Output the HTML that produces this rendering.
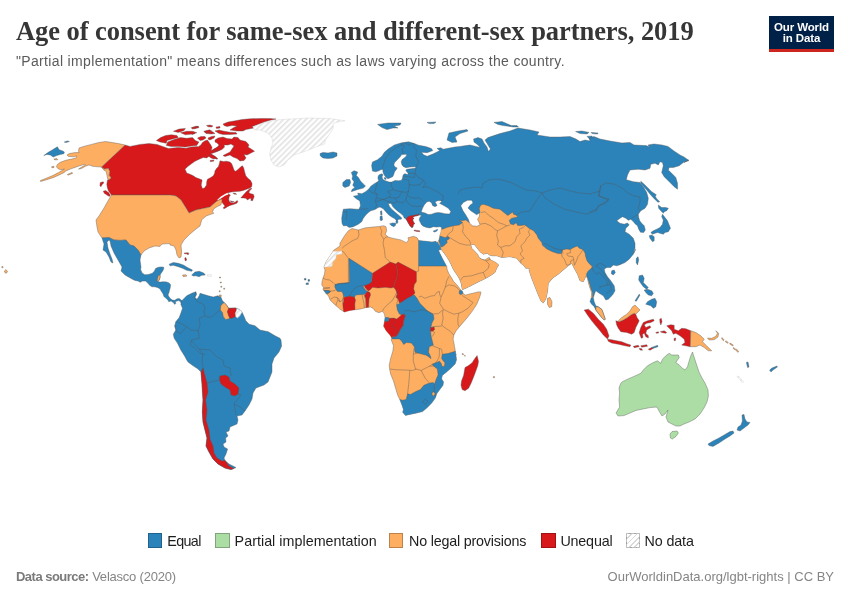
<!DOCTYPE html>
<html lang="en">
<head>
<meta charset="utf-8">
<title>Age of consent for same-sex and different-sex partners, 2019</title>
<style>
html,body{margin:0;padding:0;background:#fff;}
body{width:850px;height:600px;position:relative;overflow:hidden;font-family:"Liberation Sans",sans-serif;color:#5b5b5b;}
#title{position:absolute;left:16px;top:12.5px;margin:0;font-family:"Liberation Serif",serif;font-weight:bold;font-size:26.5px;line-height:36px;color:#363636;white-space:nowrap;letter-spacing:-0.06px;}
#subtitle{position:absolute;left:16px;top:51px;margin:0;font-size:14px;line-height:20px;color:#5b5b5b;white-space:nowrap;letter-spacing:0.34px;}
#logo{position:absolute;left:769px;top:16px;width:65px;height:33px;background:#002147;border-bottom:3px solid #ce261e;color:#fff;font-weight:bold;font-size:11.5px;line-height:11.5px;text-align:center;letter-spacing:-0.12px;}
#logo span{display:block;}
#logo span:first-child{margin-top:5.5px;}
#legend{position:absolute;left:0;top:531px;width:850px;height:20px;font-size:14.3px;color:#222;}
#legend .sw{position:absolute;top:2.4px;width:14.5px;height:14.2px;box-sizing:border-box;border:0.5px solid rgba(0,0,0,0.25);}
#legend .lb{position:absolute;top:0;line-height:20px;white-space:nowrap;color:#1d1d1d;}
#src{position:absolute;left:16px;top:568px;font-size:13px;line-height:18px;color:#858585;white-space:nowrap;}
#src b{color:#7a7a7a;letter-spacing:-0.52px;}
#src span{letter-spacing:-0.22px;}
#lic{position:absolute;right:16px;top:568px;font-size:13px;line-height:18px;color:#858585;white-space:nowrap;}
#map{position:absolute;left:0;top:0;}
</style>
</head>
<body>
<h1 id="title">Age of consent for same-sex and different-sex partners, 2019</h1>
<p id="subtitle">"Partial implementation" means differences such as laws varying across the country.</p>
<div id="logo"><span>Our World</span><span>in Data</span></div>
<svg id="map" width="850" height="600" viewBox="0 0 850 600">
<defs><pattern id="nd" width="4" height="4" patternUnits="userSpaceOnUse" patternTransform="rotate(45)"><rect width="4" height="4" fill="#fff"/><rect width="1.6" height="4" fill="#e2e2e2"/></pattern>
<clipPath id="ceu"><path d="M372.5 171.1L371.6 165.5L372.5 161.9L377.5 159.8L381.8 156.3L384.6 152L388.8 148.5L394.5 144.9L401.6 142.8L408.7 141.8L414.3 143.5L418.6 145.2L425.7 146.6L431.3 148.5L432.8 150.6L427.1 152.7L421.4 152.3L423.6 154.8L427.1 156.3L432.8 154.1L437 152L439.8 150.6L437 148.5L440.6 147.8L443.4 149.2L446.9 148.5L455 147L460 146.4L466 145.6L470 145L476 146.4L480 147.6L478 145L474 142L473.6 139L478 137.6L482 139L484 143L487 147L488.4 151.6L490.4 149L488 145L485 140L488 137.6L494 135.6L500 133.6L506 132L510 131L518 128L530 130L539 132L537 135L550 137L560 137L570 136.6L576 139L580 141.6L585 140L590 141L589 138L594 136.6L600 139L610 141L622 143L630 142.4L634 145L646 145.6L650 147L648 145L654 144L662 145L668 146.4L674 151L680 155L684 157L689 160.6L684 162.4L688.3 160L683.3 162.5L679.2 165.8L673.3 167.5L669.2 167.5L668.3 170L671.7 173.3L675.8 177.5L677.5 183.3L677.5 189.2L674.2 186.7L670 182.5L664.2 176.7L661.7 172.5L663.3 165.8L662.5 162.5L660 161.7L658.3 165L655 163.3L650.8 164.2L650 168.3L645 170L638.3 169.2L630 170L627.5 175L626.3 179.7L633.3 181.7L640 182.5L643.3 186.7L646.7 192.5L648.3 198.3L647.5 204.2L645 208.3L640.8 210.8L638.3 214.2L638.7 217.5L639.7 220.8L641.7 223.3L644.2 225.8L645.3 230L643.7 232.5L640.5 232.2L638.7 229.2L637.5 225.8L635 223.7L633 221.3L630.8 219.3L628.3 220.3L625.8 218.3L622.5 216.7L620 218.3L616.7 220.8L620 223.3L624.2 224.2L627.5 223L629.2 225L625.8 228.3L625 231.7L629.2 234.2L633.3 238.3L635 243.3L635 248.3L633.3 253.3L635.8 249.2L633.3 254.2L629.2 259.2L625 262.5L620 264.7L616.7 265.8L613.3 265L610.8 267.5L606.7 267.5L604.2 269.2L605 272.5L607.5 276.7L610.8 280.8L614.2 285.8L615 290.8L612.5 295L608.3 299.2L605.8 300L603.3 295.8L599.2 293.3L595.8 290.8L595 292.5L593.3 297.5L594.2 301.7L595.8 305.8L598.3 306.7L601.7 309.2L603.3 313.3L605.3 319.2L604.2 320L601.7 317.5L598.3 313.3L595.8 310L594.2 306.7L591.7 304.2L590 301.7L591.3 297.5L591.7 292.5L590 288.3L588.3 282.5L587.5 278.3L585.8 275.8L585 278.3L583.3 281.7L580 280.8L577.5 274.2L574.2 268.3L571.7 263.3L568.3 265.8L564.2 269.2L558.3 274.2L552.5 278.3L548.3 283.3L547.5 291.7L545.8 299.2L543.3 303L540.8 300.8L538.3 295L535 286.7L531.7 278.3L529.2 270.8L529.2 268.3L525.8 268.3L523.3 265L520.8 263.3L516.7 258.3L510 256.7L501.7 257.5L496.7 255.8L492.5 255.8L489.2 255L487.5 253.3L483.3 254.2L480 251.7L476.7 247.5L474.2 244.2L470.8 245L471.7 248.3L474.2 250.8L477.5 254.2L479.2 257.5L481.7 259.2L485 260L487.5 258.3L489.2 257.5L490.8 260L495.8 262.5L498.7 265L496.7 268.3L495 272.4L492.2 274.5L487.8 277.3L483.5 279.4L479.2 281.6L474.8 283.8L470.5 285.9L466.2 288.1L462.4 289.7L461.8 287L461.3 283.8L459.7 279.4L457.5 275.6L454.8 271.8L452.6 268L451 264.3L449.4 261L446.7 256.7L444 252.9L441.3 249.6L440.4 246.4L439.2 243.3L437.5 242.5L439.2 239.2L440 235L440.8 233.3L441.2 230L441.7 227.5L440 226.7L436.7 227.1L433.3 226.7L430 227.9L426.7 227.5L423.3 226.2L421.7 225L420.4 222.5L419.2 220L419.6 217.9L420.4 216.7L421.7 215.8L420.4 215.2L419 215L416.7 215.8L414.2 216.2L412.9 217.5L413.8 218.8L412.5 219.6L413.3 221.7L414.6 223.8L413.3 224.6L412.9 227.1L411.7 227.5L410 225.8L408.3 222.9L407.1 220.8L406.2 219.2L404.2 217.9L403.3 215.8L401.2 213.8L398.3 211.7L395.4 209.2L392.9 206.7L391.7 204.6L390.4 203.3L388.3 203.8L389.6 206.7L391.7 209.2L394.6 211.7L397.9 214.6L400.4 216.7L401.7 217.9L401.2 219.2L399.6 219.3L398.8 219.2L397.7 220.2L397.9 222.5L396.8 223.8L395.8 222.1L396.2 220.4L395 218.8L391.7 217.1L388.3 214.6L385.4 211.2L383.3 208.8L380 207.1L378.3 207.5L375 209.6L370.8 210.8L368.3 212.5L365.8 215L363.3 218.3L361.7 221.7L358.3 224.2L353.3 226.7L349.2 227.5L346.7 225.8L343.3 225.8L342 223.3L341.7 218.3L342.5 213.3L343.3 209.2L350 208.7L356.7 209.2L359 209.3L360.5 205.8L359.8 200.9L356.3 198.8L353.4 196.2L358.4 195.2L357.7 193.1L361.9 193.8L365.5 191.7L368.3 189.5L371.1 186L374 183.9L377.5 181.8L378.8 180.8L377.9 178.3L378.3 175.8L379.6 174.6L382.1 173.8L382.9 175L382.1 176.7L382.5 178.8L383.8 180L385.4 180.8L386.7 181.2L389.2 182.1L391.7 182.1L395 180.4L398.3 180.8L401.2 180.4L402.5 178.3L402.9 175.8L403.8 174.2L405 173.8L407.5 174.6L408.3 173.8L407.1 172.1L405.8 170.8L406.7 169.3L410.8 168.8L415 168.2L416 167.5L415 166.7L410 167.1L405.8 167.7L402.9 166.2L401.7 164.2L401.2 161.7L402.1 159.6L404.2 157.9L406.2 156.2L406.7 154.2L401.7 154.6L400 157.1L397.1 160L394.6 162.5L393.8 165L395 167.1L397.1 167.9L396.2 169.8L394.6 171.8L393.8 174.2L392.9 176.5L390 177.9L387.9 178.8L387.1 178.3L385.4 176.7L383.8 174.2L382.9 171.7L382.9 169.6L381.2 169.6L378.8 170.8L375.8 171.8L373.3 171.2Z"/></clipPath>
<clipPath id="caf"><path d="M352 228.5L358.3 230L365.4 227.8L372.5 227.1L379.6 226.4L383.8 225.7L386 226.7L386.7 230.7L385.3 234.2L388.1 237L393.8 238.5L400.8 239.9L406.5 242.7L408.6 239.9L407.9 237.8L413.6 236.3L417.1 237.8L418.6 240.6L426.3 241.3L432 242L436.3 241.3L435 241.7L437.5 242.5L440.4 246.4L441 249.6L438.5 250.2L440.2 254L442.3 258.3L445 263.2L446.7 266.4L447.2 269.7L448.8 273.5L451.5 277.8L453.7 281.6L456.4 284.3L458.6 287L460.2 289.2L461.3 290.3L462.4 291.3L463.5 294L465.6 295.1L469.4 294L473.8 293L478.1 291.9L480.8 291.9L480.8 293.4L479.3 298.3L476.5 304.7L472.3 311.1L468 316.8L463.8 321.7L459.5 326.7L456 330.9L453.8 335.2L453.1 339.4L453.8 342.3L454.5 346.5L455.3 350.8L456 355L455.8 354.2L456.5 359.8L455.1 364.1L450.8 368.3L446.6 371.9L442.3 375.4L441.6 379L443.5 381.8L443 385.3L440.2 388.9L436.7 393.8L435.3 398.1L431.7 403L426.8 408L422.5 411.6L416.8 413L409.8 414.4L405.5 415.4L402.7 412.3L403.4 409.4L402 405.2L399.8 399.5L397.7 395.3L395.6 388.2L393.5 381.1L390.6 374L389.6 369L389.2 365.5L390.6 358.4L392.8 351.3L393.5 345.7L391.3 340L391.6 337.5L389.5 334.6L386 330.4L383.6 326.1L384.5 321.9L385 317.6L384.5 314.1L382.4 311.3L378.9 312.7L375.3 311.3L373.2 308.4L370.4 307L365.4 307.7L360.5 309.1L354.8 309.8L349.8 310.5L344.2 312L339.9 309.1L334.3 304.2L330 299.9L328.5 296L326 293.5L324.5 291.5L323 289.5L323.5 287.5L321.8 285L322 282L323 278L324.5 274L325 270L324 267L326 262L330 256L334 250L340 246L339.9 243.4L342.8 238.5L345.6 234.2L348.4 230.7Z"/></clipPath>
</defs><g stroke="#555" stroke-width="0.4" stroke-linejoin="round">
<path d="M372.5 171.1L371.6 165.5L372.5 161.9L377.5 159.8L381.8 156.3L384.6 152L388.8 148.5L394.5 144.9L401.6 142.8L408.7 141.8L414.3 143.5L418.6 145.2L425.7 146.6L431.3 148.5L432.8 150.6L427.1 152.7L421.4 152.3L423.6 154.8L427.1 156.3L432.8 154.1L437 152L439.8 150.6L437 148.5L440.6 147.8L443.4 149.2L446.9 148.5L455 147L460 146.4L466 145.6L470 145L476 146.4L480 147.6L478 145L474 142L473.6 139L478 137.6L482 139L484 143L487 147L488.4 151.6L490.4 149L488 145L485 140L488 137.6L494 135.6L500 133.6L506 132L510 131L518 128L530 130L539 132L537 135L550 137L560 137L570 136.6L576 139L580 141.6L585 140L590 141L589 138L594 136.6L600 139L610 141L622 143L630 142.4L634 145L646 145.6L650 147L648 145L654 144L662 145L668 146.4L674 151L680 155L684 157L689 160.6L684 162.4L688.3 160L683.3 162.5L679.2 165.8L673.3 167.5L669.2 167.5L668.3 170L671.7 173.3L675.8 177.5L677.5 183.3L677.5 189.2L674.2 186.7L670 182.5L664.2 176.7L661.7 172.5L663.3 165.8L662.5 162.5L660 161.7L658.3 165L655 163.3L650.8 164.2L650 168.3L645 170L638.3 169.2L630 170L627.5 175L626.3 179.7L633.3 181.7L640 182.5L643.3 186.7L646.7 192.5L648.3 198.3L647.5 204.2L645 208.3L640.8 210.8L638.3 214.2L638.7 217.5L639.7 220.8L641.7 223.3L644.2 225.8L645.3 230L643.7 232.5L640.5 232.2L638.7 229.2L637.5 225.8L635 223.7L633 221.3L630.8 219.3L628.3 220.3L625.8 218.3L622.5 216.7L620 218.3L616.7 220.8L620 223.3L624.2 224.2L627.5 223L629.2 225L625.8 228.3L625 231.7L629.2 234.2L633.3 238.3L635 243.3L635 248.3L633.3 253.3L635.8 249.2L633.3 254.2L629.2 259.2L625 262.5L620 264.7L616.7 265.8L613.3 265L610.8 267.5L606.7 267.5L604.2 269.2L605 272.5L607.5 276.7L610.8 280.8L614.2 285.8L615 290.8L612.5 295L608.3 299.2L605.8 300L603.3 295.8L599.2 293.3L595.8 290.8L595 292.5L593.3 297.5L594.2 301.7L595.8 305.8L598.3 306.7L601.7 309.2L603.3 313.3L605.3 319.2L604.2 320L601.7 317.5L598.3 313.3L595.8 310L594.2 306.7L591.7 304.2L590 301.7L591.3 297.5L591.7 292.5L590 288.3L588.3 282.5L587.5 278.3L585.8 275.8L585 278.3L583.3 281.7L580 280.8L577.5 274.2L574.2 268.3L571.7 263.3L568.3 265.8L564.2 269.2L558.3 274.2L552.5 278.3L548.3 283.3L547.5 291.7L545.8 299.2L543.3 303L540.8 300.8L538.3 295L535 286.7L531.7 278.3L529.2 270.8L529.2 268.3L525.8 268.3L523.3 265L520.8 263.3L516.7 258.3L510 256.7L501.7 257.5L496.7 255.8L492.5 255.8L489.2 255L487.5 253.3L483.3 254.2L480 251.7L476.7 247.5L474.2 244.2L470.8 245L471.7 248.3L474.2 250.8L477.5 254.2L479.2 257.5L481.7 259.2L485 260L487.5 258.3L489.2 257.5L490.8 260L495.8 262.5L498.7 265L496.7 268.3L495 272.4L492.2 274.5L487.8 277.3L483.5 279.4L479.2 281.6L474.8 283.8L470.5 285.9L466.2 288.1L462.4 289.7L461.8 287L461.3 283.8L459.7 279.4L457.5 275.6L454.8 271.8L452.6 268L451 264.3L449.4 261L446.7 256.7L444 252.9L441.3 249.6L440.4 246.4L439.2 243.3L437.5 242.5L439.2 239.2L440 235L440.8 233.3L441.2 230L441.7 227.5L440 226.7L436.7 227.1L433.3 226.7L430 227.9L426.7 227.5L423.3 226.2L421.7 225L420.4 222.5L419.2 220L419.6 217.9L420.4 216.7L421.7 215.8L420.4 215.2L419 215L416.7 215.8L414.2 216.2L412.9 217.5L413.8 218.8L412.5 219.6L413.3 221.7L414.6 223.8L413.3 224.6L412.9 227.1L411.7 227.5L410 225.8L408.3 222.9L407.1 220.8L406.2 219.2L404.2 217.9L403.3 215.8L401.2 213.8L398.3 211.7L395.4 209.2L392.9 206.7L391.7 204.6L390.4 203.3L388.3 203.8L389.6 206.7L391.7 209.2L394.6 211.7L397.9 214.6L400.4 216.7L401.7 217.9L401.2 219.2L399.6 219.3L398.8 219.2L397.7 220.2L397.9 222.5L396.8 223.8L395.8 222.1L396.2 220.4L395 218.8L391.7 217.1L388.3 214.6L385.4 211.2L383.3 208.8L380 207.1L378.3 207.5L375 209.6L370.8 210.8L368.3 212.5L365.8 215L363.3 218.3L361.7 221.7L358.3 224.2L353.3 226.7L349.2 227.5L346.7 225.8L343.3 225.8L342 223.3L341.7 218.3L342.5 213.3L343.3 209.2L350 208.7L356.7 209.2L359 209.3L360.5 205.8L359.8 200.9L356.3 198.8L353.4 196.2L358.4 195.2L357.7 193.1L361.9 193.8L365.5 191.7L368.3 189.5L371.1 186L374 183.9L377.5 181.8L378.8 180.8L377.9 178.3L378.3 175.8L379.6 174.6L382.1 173.8L382.9 175L382.1 176.7L382.5 178.8L383.8 180L385.4 180.8L386.7 181.2L389.2 182.1L391.7 182.1L395 180.4L398.3 180.8L401.2 180.4L402.5 178.3L402.9 175.8L403.8 174.2L405 173.8L407.5 174.6L408.3 173.8L407.1 172.1L405.8 170.8L406.7 169.3L410.8 168.8L415 168.2L416 167.5L415 166.7L410 167.1L405.8 167.7L402.9 166.2L401.7 164.2L401.2 161.7L402.1 159.6L404.2 157.9L406.2 156.2L406.7 154.2L401.7 154.6L400 157.1L397.1 160L394.6 162.5L393.8 165L395 167.1L397.1 167.9L396.2 169.8L394.6 171.8L393.8 174.2L392.9 176.5L390 177.9L387.9 178.8L387.1 178.3L385.4 176.7L383.8 174.2L382.9 171.7L382.9 169.6L381.2 169.6L378.8 170.8L375.8 171.8L373.3 171.2Z" fill="#2b83ba"/>
<path d="M440 227.5L442.5 229.2L446.7 227.5L453.3 225.8L459.2 225L462.5 222.5L459.2 220L461.7 220.8L465.8 220L469.2 222.5L480 212.5L479.2 208.3L480.8 205L483.3 204.2L488.3 205.8L493.3 208.3L500 209.2L504.3 212.8L507.8 215.6L510.6 213.5L512.8 212L513.5 214.2L517 215.6L517.7 217L514.2 217.7L511.3 218.4L509.2 220.5L510.6 224.1L513.5 224.8L516.3 222.7L517.7 225.5L521.3 225.5L524.8 224.8L529 228.3L533.3 230.5L536.8 234.7L538.3 238.3L541.8 242.5L542.5 245.3L546.8 248.9L552.4 251.7L558.1 253.6L561.6 253.6L562.3 249.9L566.6 248.9L570.1 249.6L573.7 247.5L577.2 246L579.3 248.2L582.9 249.6L585 253.1L585.7 256.7L587.1 260.9L590 264.5L592.8 266.6L590.7 268.7L587.8 271.6L586.4 274.4L587.1 277.2L588.6 280.8L590 285L590.8 288.3L592.5 292.5L592.7 297L591.3 298.3L586.7 298.3L560 330L430 330L430 240Z" fill="#fdae61" clip-path="url(#ceu)"/>
<path d="M439.1 239.3L440.2 236.1L441.8 236.6L445 237.7L448.3 236.6L449.4 238.8L446.7 240.4L447.2 242.6L445 244.8L442.9 246.4L440.7 246.9L440.2 244.2L439.1 242Z" fill="#2b83ba" clip-path="url(#ceu)"/>
<path d="M421.2 212.1L422.5 208.3L424.2 205L426.7 202.1L429.2 201.2L431.7 202.9L432.5 205.4L435 206.7L437.1 205.4L436.2 203.8L435 202.1L437.5 200.8L440.8 200.4L441.7 201.7L439.6 203.3L444.2 205.8L448.3 208.3L450.8 211.5L449.5 214L445 213.8L441.7 212.9L438.3 212.5L435 212.9L431.7 214.2L428.3 214.6L425 212.9Z" fill="#ffffff"/>
<path d="M460.8 205.8L463.3 202.5L467.5 200.3L471.7 200.3L473 203L470 205.3L468 208L470.8 210.8L474.2 213L476.7 214.7L478.7 213.3L479.7 215L478.7 217.5L477.5 219.2L478.7 221.7L480 224.7L477 226.3L472.5 225.8L469.7 223.3L468.3 219.2L465.8 215L463 210.8Z" fill="#ffffff"/>
<path d="M351.3 172.5L354.1 170.7L357.7 172.1L356.3 175.4L358.4 177.5L360.5 181L363.3 183.9L365.5 186L363.3 188.1L357.7 189.5L351.3 191.7L352 189.5L354.8 187.4L352.7 185.3L354.1 181.8L352 178.9L352.7 176.1Z" fill="#2b83ba"/>
<path d="M342.8 182.5L346.3 179.6L349.9 179.6L350.6 182.5L349.2 186L344.9 187.4L342.8 186Z" fill="#2b83ba"/>
<path d="M384.2 177.5L386.2 177.9L385.8 179.6L384.6 179.2Z" fill="#2b83ba"/>
<path d="M377.6 124.4L388 123L401 123L400 125L394 126L398 128L393 128L387 129.6L382 127.6Z" fill="#2b83ba"/>
<path d="M427 122.4L436 122L434 123.6L429 123.6Z" fill="#2b83ba"/>
<path d="M449 133L458 131L467 129.6L468 131L460 133.6L455 137L457 142L452 142.4L447 140Z" fill="#2b83ba"/>
<path d="M494 122.4L502 121.6L510 125L510 126.4L503 125.6L498 124.4Z" fill="#2b83ba"/>
<path d="M510 125L511 125.6L517 125.6L518.4 127L513 127L510 126.4Z" fill="#2b83ba"/>
<path d="M575.6 131.6L582 131L589 132.4L587 134L580 133.6Z" fill="#2b83ba"/>
<path d="M591 132.4L598 133L597.6 134L592 133.6Z" fill="#2b83ba"/>
<path d="M587 136.4L592 136L592.4 138L589 138.4Z" fill="#2b83ba"/>
<path d="M380.4 211.2L381.7 210.8L382.1 214.6L380.8 215Z" fill="#2b83ba"/>
<path d="M380.2 216.2L382.1 215.8L382.5 220L380.8 220.8L380 219.2Z" fill="#2b83ba"/>
<path d="M389.6 223.8L392.9 222.9L395.8 223.3L395.4 225.4L393.8 226.7L391.2 225.4Z" fill="#2b83ba"/>
<path d="M433.2 231L435 230.4L437.5 229.3L437.7 230L436.2 231.5L434.2 232.1Z" fill="#2b83ba"/>
<path d="M406.2 219.2L407.5 217.1L410 215.8L412.5 215.4L415 215L417.5 214.6L418.8 213.8L419 215L416.7 215.8L414.2 216.2L412.9 217.5L413.8 218.8L412.5 219.6L413.3 221.7L414.6 223.8L413.3 224.6L412.9 227.1L411.7 227.5L410 225.8L408.3 222.9L407.1 220.8Z" fill="#d7191c"/>
<path d="M414 230L416.7 230.4L419.8 230.8L419.6 231.7L416.7 231.4L414.2 230.8Z" fill="#d7191c"/>
<path d="M640.8 181.3L644.2 184.2L647.5 187.5L651.7 191.7L656.3 194.7L655.3 196.3L656.7 198.7L659.7 201.7L658 202.3L654.2 198.7L650.8 195L646.7 190L643 185.8L640.8 183Z" fill="#2b83ba"/>
<path d="M658.3 205L661.7 207.5L665.8 207.5L668.3 208.3L666.7 210.8L664.2 211.7L663.3 213.3L660.8 210.8L658.7 208.3Z" fill="#2b83ba"/>
<path d="M662.5 214.2L665 217.5L667.5 220.8L669.2 225L670.5 228.3L668.3 231.7L665 232.5L663.3 234.2L660 233.3L657.5 232.5L655 233.3L652.5 234.2L650.8 232.5L653.3 230.8L656.7 229.2L660 227.5L662.5 224.2L663.3 220L661.7 216.7Z" fill="#2b83ba"/>
<path d="M649.2 235.8L651.7 235L654.2 236.7L654.2 240.8L652.5 241.7L650 238.3Z" fill="#2b83ba"/>
<path d="M611.7 270.8L614.2 270L615.3 272.5L613.3 275L611.3 273.7Z" fill="#2b83ba"/>
<path d="M636.3 258.3L638 256.7L638.7 260L637.5 265L636.2 262.5Z" fill="#2b83ba"/>
<path d="M547.5 298.3L550 297.5L552 301.7L551.7 306.7L549.2 307.5L547.5 304.2Z" fill="#fdae61"/>
<path d="M639.2 275.8L642.5 275L644.2 278.3L643.3 282.5L645.8 285L648.3 287.5L646.7 289.2L643.3 286.7L640.8 283.3L638.7 280Z" fill="#2b83ba"/>
<path d="M644.2 290L647.5 289.2L651.7 290.8L653.3 293.3L651.7 295.8L648.3 295L645.8 292.5Z" fill="#2b83ba"/>
<path d="M647.5 301.7L651.7 299.2L655 298.3L656.7 301.7L655.8 306.7L653.3 308.3L650.8 305.8L648.3 305L645.8 304.2Z" fill="#2b83ba"/>
<path d="M635 300.8L639.2 294.2L640 295L636.3 301.3Z" fill="#2b83ba"/>
<path d="M595.8 306.7L598.3 307L601.7 309.2L603.3 313.3L605.3 319.2L604.2 320L601.7 317.5L598.3 313.3L595.8 310Z" fill="#fdae61"/>
<path d="M352 228.5L358.3 230L365.4 227.8L372.5 227.1L379.6 226.4L383.8 225.7L386 226.7L386.7 230.7L385.3 234.2L388.1 237L393.8 238.5L400.8 239.9L406.5 242.7L408.6 239.9L407.9 237.8L413.6 236.3L417.1 237.8L418.6 240.6L426.3 241.3L432 242L436.3 241.3L435 241.7L437.5 242.5L440.4 246.4L441 249.6L438.5 250.2L440.2 254L442.3 258.3L445 263.2L446.7 266.4L447.2 269.7L448.8 273.5L451.5 277.8L453.7 281.6L456.4 284.3L458.6 287L460.2 289.2L461.3 290.3L462.4 291.3L463.5 294L465.6 295.1L469.4 294L473.8 293L478.1 291.9L480.8 291.9L480.8 293.4L479.3 298.3L476.5 304.7L472.3 311.1L468 316.8L463.8 321.7L459.5 326.7L456 330.9L453.8 335.2L453.1 339.4L453.8 342.3L454.5 346.5L455.3 350.8L456 355L455.8 354.2L456.5 359.8L455.1 364.1L450.8 368.3L446.6 371.9L442.3 375.4L441.6 379L443.5 381.8L443 385.3L440.2 388.9L436.7 393.8L435.3 398.1L431.7 403L426.8 408L422.5 411.6L416.8 413L409.8 414.4L405.5 415.4L402.7 412.3L403.4 409.4L402 405.2L399.8 399.5L397.7 395.3L395.6 388.2L393.5 381.1L390.6 374L389.6 369L389.2 365.5L390.6 358.4L392.8 351.3L393.5 345.7L391.3 340L391.6 337.5L389.5 334.6L386 330.4L383.6 326.1L384.5 321.9L385 317.6L384.5 314.1L382.4 311.3L378.9 312.7L375.3 311.3L373.2 308.4L370.4 307L365.4 307.7L360.5 309.1L354.8 309.8L349.8 310.5L344.2 312L339.9 309.1L334.3 304.2L330 299.9L328.5 296L326 293.5L324.5 291.5L323 289.5L323.5 287.5L321.8 285L322 282L323 278L324.5 274L325 270L324 267L326 262L330 256L334 250L340 246L339.9 243.4L342.8 238.5L345.6 234.2L348.4 230.7Z" fill="#fdae61"/>
<path d="M318.7 267.5L318.7 251.2L334.3 251.2L342 251.2L342 254L336.4 254.8L335.7 259L332.8 261.8L332.1 266.1L330 266.8Z" fill="url(#nd)" stroke="#d0d0d0" clip-path="url(#caf)"/>
<path d="M418.6 233.5L418.6 266.1L449 266.1L449 233.5Z" fill="#2b83ba" clip-path="url(#caf)"/>
<path d="M372.5 273.2L390.2 262.1L395.9 264L396.6 267.5L398 271.8L396.6 278.8L394.5 283.1L393.8 287.3L390.9 288L385.3 287.3L378.2 288L372.5 287.3L370.4 289.5L368.3 290.9L365.4 288L364 285.2L366.8 283.1L371.8 281.7Z" fill="#d7191c" clip-path="url(#caf)"/>
<path d="M395.9 264L398 262.1L416.4 271.8L416.4 281.7L414.3 284.5L413.6 288.8L415 293L412.2 295.8L409.3 298.7L403.7 301.5L399.4 302.9L398 298.7L395.9 297.3L397.3 294.4L395.9 290.2L393.8 287.3L394.5 283.1L396.6 278.8L398 271.8L396.6 267.5Z" fill="#d7191c" clip-path="url(#caf)"/>
<path d="M349 258.3L372.3 273.2L372 276L371.5 282L369 284L366 285L363 286L364 288L365.5 290L367.5 291.5L365.5 294L362 294.5L355.5 295L354.5 297.5L352 296.5L349 296.2L346.5 297L343.5 296.5L343 293.5L341.5 291.5L337.5 291.5L336 289.5L334.8 287L335 284.5L339 283.5L349.5 282.5Z" fill="#2b83ba" clip-path="url(#caf)"/>
<path d="M322 290.5L326 290.5L328.5 290.5L330.5 291.2L329.5 292.5L327.5 293.8L324 294L322 293Z" fill="#2b83ba" clip-path="url(#caf)"/>
<path d="M343.5 297.5L346.5 297L349 296.2L352 296.5L354.5 297.5L355.5 300L354.8 304L355 309.5L355 313L344 314L343.2 308.5L342.8 304L343.8 301Z" fill="#d7191c" clip-path="url(#caf)"/>
<path d="M365.5 294L367.5 291.5L370 292.5L370.5 295L369 299L368.5 307L368.5 310L366.3 310L366 299L364.5 295.5Z" fill="#d7191c" clip-path="url(#caf)"/>
<path d="M400 303.3L407.1 298.3L414.2 294.8L417 298.3L419.8 303.3L424.1 307.5L427.6 311.1L433.3 314.6L434 318.9L431.9 323.1L430.9 327.4L430.5 330.9L431.2 336.6L432.6 342.3L433.3 345.1L429.2 346.7L428.5 352.3L430.6 356.6L430.9 358.7L429.2 357.3L426.3 355.2L420.7 353.8L417.8 353L415 352.3L414.3 346.7L411.5 343.1L406.5 342.4L403.7 344.5L401.6 341L399.4 338.9L392.3 338.9L391.6 337.5L395.9 336.5L398 333.9L400.1 329.7L403 325.4L403.7 320.5L405.1 316.2L404.4 314.1L401.6 314.8L399.4 314.1L397.3 309.8L396.6 304.9Z" fill="#2b83ba" clip-path="url(#caf)"/>
<path d="M385 321.2L388.8 320.9L389.2 318.3L393.8 318.1L396.6 319L398.7 317.6L401.6 314.8L404.4 314.1L405.1 316.2L403.7 320.5L403 325.4L400.1 329.7L398 333.9L395.9 336.5L392.3 336.8L391.6 337.5L386.7 338.9L379.6 332.5L379.6 321.9Z" fill="#d7191c" clip-path="url(#caf)"/>
<path d="M382.4 317.6L388.8 317.6L388.8 321.2L382.4 321.2Z" fill="#2b83ba" clip-path="url(#caf)"/>
<path d="M430.6 327.5L434.1 327.1L434.6 329.7L432 331.4L430.3 330.8Z" fill="#d7191c" clip-path="url(#caf)"/>
<path d="M459.5 290.8L461.3 290L462.9 291.3L462.7 293.5L460.8 294.8L459.1 293.5Z" fill="#2b83ba" clip-path="url(#caf)"/>
<path d="M442.3 354.2L448 353.5L455.1 351.3L459.3 351.3L459.3 375.4L445.2 385.3L439.5 396.7L435.3 396L434.1 394.5L433.8 389.6L434.5 383.9L436 379.7L438.1 374.7L437.4 369L433.8 366.2L432.1 364.4L436 362.7L439.5 361.3L441.2 363.4L442.1 366.6L444.5 366.2L444.9 362.7L443 360.5L441.6 358.4Z" fill="#2b83ba" clip-path="url(#caf)"/>
<path d="M399.8 399.5L402.7 400.2L406.2 399.5L407.6 393.8L410.5 394.5L415.4 391.7L420.4 389.6L423.9 385.3L428.9 383.2L433.1 382.5L434.5 383.9L433.8 389.6L434.1 394.5L435.3 396L439.5 396.7L433.8 408L422.5 416.5L405.5 419.3L397 413.7L397 399.5Z" fill="#2b83ba" clip-path="url(#caf)"/>
<path d="M432.1 392.7L433.8 391.7L435 393.8L433.8 396L432.1 395.3Z" fill="#fdae61" clip-path="url(#caf)"/>
<path d="M422.5 401.6L425.3 399.2L427.9 401.2L425.3 404.5Z" fill="#2b83ba" clip-path="url(#caf)"/>
<path d="M461.5 381.1L463.6 375.4L465 367.6L468.6 365.5L472.1 362.7L474.9 358.4L477.1 355.6L478.5 361.3L477.8 365.5L476.3 369.8L474.2 375.4L471.4 382.5L468.6 388.2L465 390.7L462.2 389.6L461 385.3Z" fill="#d7191c"/>
<path d="M462.2 353.5L463.6 353.9L463.3 354.7L462.2 354.5Z" fill="#fdae61"/>
<path d="M464.3 355.3L465.4 355.6L465 356.4Z" fill="#fdae61"/>
<path d="M493.3 376.6L494.5 376.6L494.5 377.7L493.3 377.7Z" fill="#fdae61"/>
<path d="M304.4 278.4L306 278.4L306 280L304.4 280Z" fill="#2b83ba"/>
<path d="M308 279.6L309.6 279.6L309.6 281.2L308 281.2Z" fill="#2b83ba"/>
<path d="M306 283.2L308.4 282.8L308.4 284.4L306 284.4Z" fill="#2b83ba"/>
<path d="M125 145L130 146.4L140 144.4L149 143.6L157 144.4L165.6 147.5L168.4 148.5L178.3 147.5L186 148.3L191 147L197.5 146.5L197.9 147.1L200.8 145L202.5 142.5L205 140.8L207.5 140L209.2 142.5L210.8 145L212.1 147.5L211.2 150.4L213.3 149.6L216.7 147.5L220 145.8L223.3 145L223.8 146.2L221.7 148.3L219.2 150.4L216.7 151.7L213.3 152.9L210.8 153.8L211.7 154.6L215 156.2L217.9 158.8L216.7 159.2L213.3 157.5L210.8 155.8L208.3 156.8L206.7 157.9L203.3 157.5L199.2 159.2L195 161.2L190.8 164.2L187.5 166.7L185 169.2L185.8 170.8L186.7 172.9L190 174.2L193.3 175.8L195.8 177.5L199.2 178.8L202.1 180L201.8 181.7L201.2 185L202.4 188.6L204.5 188L206.5 185L206.7 181.7L207.5 179.2L210.8 177.5L213.3 175.8L214.6 173.3L215 170.8L216.7 168.3L218.3 166.7L219.2 164.2L220 160.8L223.3 161.5L226.7 161.2L230 162.1L231.7 163.8L232.9 166.7L234.2 170.4L235.8 171.2L238.3 169.2L240.8 166.7L242.5 165.8L243.8 168.3L244.6 171.7L245.8 175.8L247.9 178.3L250 180L250.8 180.8L252.1 183.8L251.7 186.7L250 187.9L246.7 189.2L243.3 190.4L240 191.2L236.7 191.5L233.3 191.8L230 192.3L227.5 192.9L228.8 194.3L230.4 195L229.2 196.7L228.8 199.2L229.2 201.2L230.8 202.5L233.3 202.9L235.4 202.1L237.1 200.4L237.9 201.7L236.7 203.3L233.3 204.6L230 205.4L227.5 206.7L225 208.3L223.8 208.8L223.3 207.5L225 206.2L221.8 202.1L222.1 199.3L220 199.6L216.7 201.2L210 207L196 210L189 213L186 208L181 200L176 196L170 195L111.5 195L108.5 190.9L107.4 187.9L106.8 184.4L107.4 180.3L110.3 179.1L110.9 177.4L109.1 175.6L109.7 171.5L108.5 168.5L104.4 169.1L101.5 167Z" fill="#d7191c"/>
<path d="M240.8 197.9L243.3 195L246.2 191.8L249.2 189.2L251.2 187.9L251.7 188.8L249.6 190.8L248.8 192.5L250.8 193.8L253.3 194.2L254.2 196.7L253.3 198.8L252.5 200.8L250.8 200.4L251.2 198.3L249.2 198.8L247.5 200L245.8 198.3L243.3 197.9Z" fill="#d7191c"/>
<path d="M232.9 193.3L235 193.2L236.7 194.2L234.6 194.2Z" fill="#d7191c"/>
<path d="M230.4 200.7L232.5 201.5L234.2 201.7L232.9 202.3L230.8 201.7Z" fill="#d7191c"/>
<path d="M227.5 192.7L225 194L220.8 196.5L217.1 200L217.9 200.2L221.7 197.9L225 195.8L228.3 194.6Z" fill="#ffffff" stroke="none"/>
<path d="M100.3 182.6L103.2 181.8L103.8 183L102.1 184.4L100.9 186.8L99.9 185.6Z" fill="#d7191c"/>
<path d="M103.2 191.2L105.6 190.5L108.5 192.6L110.3 195L109.4 196.4L106.8 195L104.4 193.2Z" fill="#d7191c"/>
<path d="M223 124L228 122L234 121L242 119.5L250 118.8L260 118.5L270 118.6L276 119L270 120.2L264 122L258 124.5L252 126.5L254 128L246 129.5L243 131L237 131L230 130L233 128L237 126L232 125.5L227 126.5L224 125.5Z" fill="#d7191c"/>
<path d="M215 131L219 130L223 131L230 132.2L236 132.5L237 134L230 134.5L223 134.5L219 133.5Z" fill="#d7191c"/>
<path d="M206.5 125.5L210 125L213 126L211.5 127L208 126.8Z" fill="#d7191c"/>
<path d="M192 127.5L196 126.2L198.5 126.5L195 128.5Z" fill="#d7191c"/>
<path d="M216 127L220 126.5L220 128L216.5 128.5Z" fill="#d7191c"/>
<path d="M204 131.5L208 131L213 132L215 133.5L211.5 134L206 133.5Z" fill="#d7191c"/>
<path d="M191 133L194 132L195 133.5L192 134.5Z" fill="#d7191c"/>
<path d="M215 140L218 138L223 137L227 138.5L232 139L234 137L238 137.5L240 140L246 141.5L249 145L248 147L252 149.5L254.5 151.2L250 153.5L247 155L244 154.5L246 158L244 160.5L240 161L237 158.5L233 157L230 155L225 156.5L223 155.5L227 153.5L230 152L232 149L234 146L231 144L228 145L224 145L224.5 147L222 149.5L218 151L214 151.5L213 149.5L217 147.5L219 145L217 143L215 142Z" fill="#d7191c"/>
<path d="M208 138L211.5 136.5L215 136L214 138L210 140L208.5 139.5Z" fill="#d7191c"/>
<path d="M197.5 138L201 136.5L205 136.5L206 138L203 140L200 140.5Z" fill="#d7191c"/>
<path d="M208.5 156L211 154L214 156L216.5 158L214 159L211 158Z" fill="#d7191c"/>
<path d="M210 160.5L213.5 160L214 161L210.5 161.8Z" fill="#d7191c"/>
<path d="M156.4 140.5L160.6 137.6L165.6 135.5L171.3 134.8L176.9 135.5L178.3 137.6L172.7 139L167 140.5L166.3 143.3L159.9 141.9Z" fill="#d7191c"/>
<path d="M167.7 141.9L173.4 139.8L180.5 137.6L186.8 138.3L192.5 137.6L195.3 140.5L198.9 141.9L196.8 145.4L191.1 146.1L185.4 147.1L178.3 146.6L171.3 146.6L166.3 145.4Z" fill="#d7191c"/>
<path d="M173.4 131.3L179 129.1L185.4 128.4L184 130.5L178.3 132.4Z" fill="#d7191c"/>
<path d="M180.5 132.7L186.8 131.3L192.5 131.3L196.8 132.7L192.5 134.1L185.4 134.8Z" fill="#d7191c"/>
<path d="M191.1 127.7L198.2 126.3L198.9 127.7L192.5 129.1Z" fill="#d7191c"/>
<path d="M203.8 131.3L209.5 129.8L212.3 131.3L206.7 133Z" fill="#d7191c"/>
<path d="M111.5 195L170 195L176 196L181 200L186 208L189 213L196 210L210 207L216.7 201.3L220 199.6L222 199.3L221.8 202L220.8 205L217.9 206.2L213.8 208.8L212.5 211.7L213.8 213.3L210 214.6L206.7 215.8L203.3 218.3L201.7 220L200 226L196 229L190 234L184 240L181 245L181.6 252L181 257L179 258L177 255L176 250L174 246L170 245L170 243.6L162 244L160 246.4L155 246L149 248L144 251L141 255L138 250L134 246L130 245L126 240L120 240.4L114 240L109 237.6L102 238L98 232L97 227L96 220L99 216L104 208L108.5 200Z" fill="#fdae61"/>
<path d="M125 145L119.7 143.8L112.6 142.6L105.6 141.5L98.5 142.6L91.5 144.4L84.4 146.2L79.1 147.9L78.5 150.9L79.1 152.6L75 152.6L69.1 153.6L67 155L68.5 156.4L73.8 156.8L76.8 155.9L76.2 157.9L71.5 159.1L65.6 160.3L60.3 162.3L57.4 164.4L56.4 166.8L57.9 168.5L60.3 169.7L64.4 169.1L58.5 172.6L52.6 175.6L45.6 178.5L40.3 180.6L40.6 181.5L46.8 179.7L53.8 177.4L60.3 174.4L64.4 172.4L65.8 170.9L70.3 169.1L75 167.4L79.7 165.8L85 164.2L85.6 165L82.1 166.8L78.5 169.1L81.5 168.5L85.6 166.2L89.1 165L92.6 166.2L97.4 166.8L101.5 167Z" fill="#fdae61"/>
<path d="M101.5 167L104.4 169.1L108.5 168.5L109.7 171.5L109.1 175.6L110.9 177.4L110.3 179.1L107.9 179.7L107 175.6L106.2 171.5L103.8 170.1Z" fill="#fdae61"/>
<path d="M67.4 174.4L72.1 172.4L72.6 173.4L67.9 175.2Z" fill="#fdae61"/>
<path d="M4.4 271L6 269.6L7.6 271.6L6.4 273.2L5 272.8Z" fill="#fdae61"/>
<path d="M1.6 266.8L2.8 266.4L3.2 267.6L2 267.8Z" fill="#fdae61"/>
<path d="M43.8 155.6L47.9 152.6L52.6 149.7L57.4 146.8L59.1 149.7L62.6 150.9L64.4 152.1L63.8 153.8L60.3 154.4L56.8 155.6L53.2 157.1L50.3 155L46.8 154.4Z" fill="#2b83ba"/>
<path d="M64.2 142.1L67.4 140.9L69.4 141.5L66.2 142.6Z" fill="#2b83ba"/>
<path d="M53.8 159.1L56.8 158.5L57.9 159.7L55 159.9Z" fill="#fdae61"/>
<path d="M51.5 166.8L53.8 166.2L54.1 167.4L52.1 167.9Z" fill="#fdae61"/>
<path d="M253 127L260 124L276 120L290 119L310 118L330 118.6L340 120L345 120.8L340 121.6L333.2 123.2L333.2 128.2L329.2 134.8L325.4 140L324.8 143.8L317.6 146.4L306 151L294 155L288 160L284 165L279 167L274 165L271 160L269.6 154L271 148L273 143L272 138L268 133L260 130L254 130Z" fill="url(#nd)" stroke="#d0d0d0"/>
<path d="M320 153.6L323 152.4L328 153L333 152L337 153L337 156L333 158L328 158.6L323 158L320.4 156Z" fill="#2b83ba"/>
<path d="M102 238L109 237.6L114 240L120 240.4L126 240L130 245L134 246L138 250L141 255L140 260L141 267L140.6 269.5L142.1 272.9L144.8 274.8L148.5 274.4L152.3 273.3L154.5 271L155.6 268.4L158.3 267.3L161.3 266.9L163.9 267.3L163.5 269.5L162.4 271.4L160.9 273.6L160.1 275.1L160.1 277L159.4 279.6L157.9 281.7L160.5 282.1L163.5 281.7L166.5 281.9L169.1 283L170.6 284.7L170.3 287.5L169.5 290.5L168.8 293.1L168 295L169.1 296.9L170.6 298.8L172.5 300.1L174.8 300.3L177 298.8L179.3 298.6L181.1 299.9L183 302.1L181.9 304L180.4 301.8L178.9 300.6L177 301L175.1 301.8L175.9 303.3L174.8 304.4L173.3 302.5L171 301L168.8 301.8L168 300.3L165.8 298L163.9 296.5L163.1 293.9L161.3 291.3L160.1 289L157.5 287.5L154.5 286.8L151.9 286.8L149.6 285.3L147.8 283L145.5 281.1L142.5 281.1L140.3 282.3L138 281.1L135 280.4L132 279L125 275L121 271L122 267L118 260L114 253L111 246L110 241L109 240L107 242L108 248L110 254L112 259L113 263L111 262L109 257L106 252L103 250L104 244Z" fill="#2b83ba"/>
<path d="M158.3 275.5L159.8 274.9L160.1 277L159.4 279.6L157.9 281.7L157.1 281.1L157.5 278.5Z" fill="#fdae61"/>
<path d="M181.7 300.8L183.3 299.2L186.7 295.8L191.7 293.3L195.8 291.7L196.7 294.2L195 297.5L197 299.2L199.2 295.8L200 293.3L203.3 294.2L208.3 295.8L213.3 297L217.5 295.8L220.8 297L222.5 300.8L224.2 302.5L226.7 305.3L228.7 308.3L235.8 308L240 309.7L242 312L244.2 316.7L245.8 320.8L249.2 324.2L255 325.8L260 330L268.3 331.7L275 335.8L280 338.3L281 340L281.6 346L279 352L274 358L272 364L272 372L268 382L264 385L256 388L253 393L252 399L249 405L245 411L242 415L237 416L238 420L237 424L230 427L229 431L226 432L228 436L225.6 438L226 442L223 444L224 447L227.6 449L226 454L224 458L225 460.4L229 464L236 467.6L234 468.4L231 469.6L225 468L218 464L213 459L209 452L206 446L207 438L205 430L203 422L202.4 412L203 400L202 384L201 372L198 369L192 365L188 362L186.7 360L185 356.7L180.8 350L177.5 343.3L174.2 338.3L173.3 334.2L175.8 330L174.7 325.8L175.8 321.7L179.2 317.5L180.8 313.3L182.5 308.3L180.8 304.2Z" fill="#2b83ba"/>
<path d="M201 372L202 384L203 400L202.4 412L203 422L205 430L207 438L206 446L209 452L213 459L218 464L225 468L231 469.6L234 468.4L229 466L225 460.4L222 461L217 458L214 453L213 446L210 439L209 430L206 420L207 410L205.6 400L208 392L207 383L204 372L203 368Z" fill="#d7191c"/>
<path d="M220 376L225 375L229 377L230 381L235 384L239 388L238 394L235 396L231 395L230 390L225 387L221 384L219.6 380Z" fill="#d7191c"/>
<path d="M224.2 302.5L226.7 305.3L228.7 308.3L227.5 311.7L228.7 315.8L230 318.3L225.8 319.7L223.3 316.7L222.5 312.5L220.3 310L220.8 305.8L222.5 303.7Z" fill="#fdae61"/>
<path d="M228.7 308.3L235.8 308L236.7 310L235.3 313.3L235.8 316.7L231.7 318.3L230 318.3L228.7 315.8L227.5 311.7Z" fill="#d7191c"/>
<path d="M236.7 308.7L240 309.7L242 312L240 315.8L237.5 318L235.8 316.7L235.3 313.3L236.7 310Z" fill="url(#nd)" stroke="#d0d0d0"/>
<path d="M169.2 264.2L173.3 262.5L178.3 263.3L183.3 265L187.5 267.5L192.5 270L191.7 271.3L186.7 270.3L182.5 268.3L178.3 266.7L173.3 265.3L170 265.8Z" fill="#2b83ba"/>
<path d="M182.5 275L185.8 274.7L187 276L183.3 276.7Z" fill="#fdae61"/>
<path d="M191.7 275L195 272L199.2 271.3L203.7 273L205.3 275L201.7 275.3L199.2 276.7L195.8 275.8L193.3 276Z" fill="#2b83ba"/>
<path d="M207.5 274.7L211.3 274.7L211.3 276.3L207.5 276.3Z" fill="url(#nd)" stroke="#d0d0d0"/>
<path d="M184.2 252.9L188.3 252.7L188.8 253.8L187.9 255L187.1 253.8L184.6 253.8Z" fill="#d7191c"/>
<path d="M184.8 257.9L185.8 257.5L186.5 259.2L186 261L185 260.4Z" fill="#d7191c"/>
<path d="M219.2 295L221.3 295L221 297L219.2 296.7Z" fill="#fdae61"/>
<path d="M219.5 277L220.5 277L220.5 278L219.5 278Z" fill="#fdae61"/>
<path d="M220.3 282L221.3 282L221.3 283L220.3 283Z" fill="#fdae61"/>
<path d="M220.8 286.2L221.8 286.2L221.8 287.2L220.8 287.2Z" fill="#fdae61"/>
<path d="M223.7 288.2L224.7 288.2L224.7 289.2L223.7 289.2Z" fill="#fdae61"/>
<path d="M219.2 290.8L220.2 290.8L220.2 291.8L219.2 291.8Z" fill="#fdae61"/>
<path d="M584.2 310L588.4 309.2L593.3 313.3L598.3 319.2L603.3 324.2L606.7 329.2L609 336L607.5 339L603.3 335L600 330.8L595.8 325.8L591.7 320.8L587.5 315Z" fill="#d7191c"/>
<path d="M607.5 339.2L611.7 339.7L616.7 340.8L621.7 341.7L626.7 343.7L630.8 345L630 346.7L625 345.8L618.3 344.2L611.7 343L608.3 341.3Z" fill="#d7191c"/>
<path d="M633.3 346.3L638.3 345.3L639.2 346.7L634.2 347.7Z" fill="#d7191c"/>
<path d="M640.8 345.8L646.7 344.7L647.5 346.3L641.7 347.2Z" fill="#d7191c"/>
<path d="M639.2 348.3L641.7 348.7L642.5 350.3L640 350Z" fill="#d7191c"/>
<path d="M648.3 349.2L651.7 347.5L653.3 348.3L650 350.3Z" fill="#d7191c"/>
<path d="M651.7 347.5L657.5 345.3L658 346.7L653.3 348.3Z" fill="#2b83ba"/>
<path d="M615.8 320.8L619.2 321.7L623.3 320L627.5 317.5L630.8 315L634.2 313.3L635.8 314.2L637 317.5L639.2 320.8L637.5 324.2L635.8 327.5L634.2 332.5L631.7 334.2L626.7 332.5L620.8 331.7L618.3 328.3L616.7 325Z" fill="#d7191c"/>
<path d="M618.3 320.8L621.7 317.5L626.7 314.2L630 310.8L632.5 306.7L635 305L637.5 307.5L640 310L637.5 312.5L635.8 314.2L634.2 313.3L630.8 315L627.5 317.5L623.3 320L619.2 321.7Z" fill="#fdae61"/>
<path d="M639.2 332.5L640.8 327.5L643.3 322.5L647.5 320.8L653.3 319.2L654.2 320.8L650.8 322.5L646.7 323.3L644.2 325L645.8 327.5L650 325.8L650.8 327.5L646.7 330L645.8 333.3L648.3 335.8L648.3 338L645.8 336.7L644.2 333.3L642.5 334.2L643 337.5L641.3 338.3L640 335Z" fill="#d7191c"/>
<path d="M659.7 319.2L661.3 318.3L662 321.7L660.8 325L660 322.5Z" fill="#d7191c"/>
<path d="M655.8 332.5L658.3 331.7L658.7 333L656.3 333.3Z" fill="#d7191c"/>
<path d="M660.3 331.7L664.2 330.8L666.7 332.5L665.8 333.3L661.7 332.5Z" fill="#d7191c"/>
<path d="M666.7 325.8L670.8 324.7L674.2 325.3L674.2 329.2L678.3 330.8L681.7 328.3L685.8 328.7L690.8 330.8L690.3 346.7L685.8 345.8L681.7 345L685 342.5L684.2 339.2L680 335.8L675.8 333.3L673.3 334.2L671.7 330.8L669.2 328.3Z" fill="#d7191c"/>
<path d="M674.2 338.3L675.8 338L675.3 340.8L674 340.5Z" fill="#d7191c"/>
<path d="M690.8 330.8L695.8 332.5L700.8 335.8L704.2 339.2L702.5 341.7L705.8 345L709.2 348.3L711.7 350.8L708.3 350.8L704.2 347.5L700 345L695.8 346.7L690.3 346.7Z" fill="#fdae61"/>
<path d="M707.5 338L711.7 338.3L715.8 336.3L717.5 333.3L715.8 330.8L718.7 333.3L718 337L714.2 339.7L709.2 340Z" fill="#fdae61"/>
<path d="M722 337.5L724.2 340L723.3 340.8L721.7 338.7Z" fill="#fdae61"/>
<path d="M725.8 340.8L728.3 342.5L727.7 343.3L725.3 341.7Z" fill="#fdae61"/>
<path d="M730 343L733.3 345L732.7 346L729.7 344Z" fill="#fdae61"/>
<path d="M733.3 347.5L735.8 349.2L735 350L733 348.3Z" fill="#fdae61"/>
<path d="M736.7 349.2L738.7 351.7L737.7 352.3L735.8 350Z" fill="#fdae61"/>
<path d="M620.8 383.3L622.5 381.7L627.5 379.2L633.3 376.7L640.8 373.3L643.3 370L647.5 365.8L653.3 362.5L657.5 360.8L660.8 363.3L662.5 359.2L665.8 355.8L669.2 353.3L671.7 355L678.3 355L679.2 357.5L675.8 362.5L679.2 365L682.5 368.3L685 370L687.5 366.7L689.2 360.8L690.8 355.8L692.5 352L694.4 358L697 366L699 372L702 378L705 383L708 390L708.4 396L707 402L704 408L700 414L695 419L689 422L684 424L680 426L676 426L672 424L668 422L666 417L668 410L665 414L662 416L659 411L657 407L650 407.6L643 409L636 410.4L630 413L624 415.6L618 416L616 413L619.6 407L619 400L619.6 393L619 388Z" fill="#abdda4"/>
<path d="M670 434L672 431.6L677 431L678.4 433L676 436.4L672.4 439L670.4 438Z" fill="#abdda4"/>
<path d="M742 415L744 414.4L745 419L747 422L750 422.4L748 425L744 428L740 431L737 430L738 427L741 425L742.4 421Z" fill="#2b83ba"/>
<path d="M733 431L734 433L730 436L725 439L719 443L713 446.4L709 445.6L708 444L713 441L719 438L725 434.4L730 431.6Z" fill="#2b83ba"/>
<path d="M746.4 362.4L748 362L749 367L747.6 367.6Z" fill="#2b83ba"/>
<path d="M769.6 370L772 368L777 366L777.4 367L773 370L771 372Z" fill="#2b83ba"/>
<path d="M737 376.4L738.4 376L743.6 382L742.4 382.8Z" fill="url(#nd)" stroke="#d0d0d0"/>
<path d="M342 248.4L344.2 246.3L348.4 243.4L352.7 240.6L357.6 238.5L359 234.9L358.3 230" fill="none" clip-path="url(#caf)"/>
<path d="M342 251.2L343.5 251.9L348.4 258.3" fill="none" clip-path="url(#caf)"/>
<path d="M379.6 226.4L381.7 230.7L381 234.9L383.8 239.2L386 237L388.1 237" fill="none" clip-path="url(#caf)"/>
<path d="M383.8 239.2L383.1 243.4L384.5 250.5L385.3 257.6L388.1 260.4L390.2 262.1" fill="none" clip-path="url(#caf)"/>
<path d="M416.4 271.8L418.6 271L418.6 266.1" fill="none" clip-path="url(#caf)"/>
<path d="M348.4 258.3L348.4 283.1L338.5 283.8L335 285.2" fill="none" clip-path="url(#caf)"/>
<path d="M419.1 296.9L421.3 296.2L424.8 298.3L430.5 296.2L434.7 295.5L436.8 292.4L439.4 291.5L439.7 294.8L441.1 296.9" fill="none" clip-path="url(#caf)"/>
<path d="M448.9 276.4L446.8 280.6L445.3 287L443.2 292.7L441.1 296.9" fill="none" clip-path="url(#caf)"/>
<path d="M445.3 287L448.9 284.9L454.5 285.9L458.1 288.7L460.2 291.3" fill="none" clip-path="url(#caf)"/>
<path d="M441.1 296.9L439.7 303.3L443.2 309L448.2 311.8L453.8 314.2L458.8 313.2L462.3 311.8L468 308.3L473 302.6L466.6 298.3L462.3 295.5" fill="none" clip-path="url(#caf)"/>
<path d="M427.6 311.1L433.3 313.9L438.3 313.6L443.2 309.7" fill="none" clip-path="url(#caf)"/>
<path d="M443.2 309.7L442.5 313.9L443.2 318.2L441.8 324.5L442.5 326L449.6 330.9L454.5 335.5" fill="none" clip-path="url(#caf)"/>
<path d="M458.8 313.2L457.8 318.9L458.1 324.5L459.5 327.4" fill="none" clip-path="url(#caf)"/>
<path d="M432.3 326.7L441.8 326" fill="none" clip-path="url(#caf)"/>
<path d="M432.3 330.9L434.7 332.3L432.3 336.6" fill="none" clip-path="url(#caf)"/>
<path d="M404.3 311.1L408.5 310.4L414.2 311.8L421.3 309.7L427.6 311.1" fill="none" clip-path="url(#caf)"/>
<path d="M389.6 369L397 369.8L405.5 370L412.6 370.5L416.1 369" fill="none" clip-path="url(#caf)"/>
<path d="M414 348.5L413.3 354.2L413.3 361.3L415.4 368.3L416.1 369.8" fill="none" clip-path="url(#caf)"/>
<path d="M413.3 354.2L418.3 352.8" fill="none" clip-path="url(#caf)"/>
<path d="M432.4 345.7L439.5 348.5L439.2 357L436 362.7L432.1 364.4L429.6 366.2L425.3 368.3L421.1 370.5L416.1 369" fill="none" clip-path="url(#caf)"/>
<path d="M409.8 370.5L409 381.1L407.6 393.8" fill="none" clip-path="url(#caf)"/>
<path d="M421.1 370.5L425.3 378.3L428.9 382.5" fill="none" clip-path="url(#caf)"/>
<path d="M429.6 366.2L433.8 366.2" fill="none" clip-path="url(#caf)"/>
<path d="M439.5 348.5L441.6 349.2L442.3 354.2" fill="none" clip-path="url(#caf)"/>
<path d="M398 290L395.9 294.3L392.3 300.6L388.1 304.2L383.8 308.4L382.4 311.3" fill="none" clip-path="url(#caf)"/>
<path d="M395.9 294.3L398 298.5L396.6 304.9" fill="none" clip-path="url(#caf)"/>
<path d="M393.8 318.1L394.5 322.6L392.3 326.8L395.9 328.3L396.6 332.5L392.3 336.8" fill="none" clip-path="url(#caf)"/>
<path d="M323 278L326 279.5L329.5 280L333 282.5L335 284.5" fill="none" clip-path="url(#caf)"/>
<path d="M323.8 290.5L328.5 290.5L330.5 291.2L335 290.5L336 289.5" fill="none" clip-path="url(#caf)"/>
<path d="M323.5 288L327 287.5L330 287.8L327 288.6L323.5 288.8" fill="none" clip-path="url(#caf)"/>
<path d="M330.5 291.2L329.5 292.5L327.5 293.8" fill="none" clip-path="url(#caf)"/>
<path d="M343.5 296.5L342.5 300L340 302L339 299L337 297.5L334 297L332 298.5L330.5 299" fill="none" clip-path="url(#caf)"/>
<path d="M337 297.5L338 300L336.5 303L336 305.5" fill="none" clip-path="url(#caf)"/>
<path d="M340 302L338 300" fill="none" clip-path="url(#caf)"/>
<path d="M342.5 300L343.2 304" fill="none" clip-path="url(#caf)"/>
<path d="M362 294.5L363 299L364 304L364.5 308.5" fill="none" clip-path="url(#caf)"/>
<path d="M364 294.5L365.5 299L366.2 308" fill="none" clip-path="url(#caf)"/>
<path d="M350 295.5L352 291.5L355 288L359 286L363 286" fill="none" clip-path="url(#caf)"/>
<path d="M453.3 225.8L452.5 230.8L448.3 234.2L446.7 236.7" fill="none" clip-path="url(#ceu)"/>
<path d="M462.5 222.5L463.3 227.5L462.5 231.7L465.8 236.7L469.2 240L470.8 244.2" fill="none" clip-path="url(#ceu)"/>
<path d="M446.7 236.7L450.8 238.3L459.2 243.3L465.8 245L470.8 245" fill="none" clip-path="url(#ceu)"/>
<path d="M460 280.8L463.3 276.7L471.7 275.8L479.2 273.3L483.3 272.5L485.8 278.3" fill="none" clip-path="url(#ceu)"/>
<path d="M483.3 272.5L488.3 268.3L489.2 264.2L485.8 260.8L480 258.3" fill="none" clip-path="url(#ceu)"/>
<path d="M485.8 260.8L489.2 260L490 257.5" fill="none" clip-path="url(#ceu)"/>
<path d="M480 224.2L485 223.3L490.8 225.8L495.8 230L497.5 230.8" fill="none" clip-path="url(#ceu)"/>
<path d="M497.5 230.8L496.7 235.8L498.3 240.8L497.5 245L500.8 247.5L503.3 252.5L501.7 257.5" fill="none" clip-path="url(#ceu)"/>
<path d="M480.8 212.5L485 211.7L488.3 215L493.3 218.3L498.3 222.5L503.3 224.2L506.7 225.8" fill="none" clip-path="url(#ceu)"/>
<path d="M497.5 230.8L502.5 228.3L506.7 225.8L510 225" fill="none" clip-path="url(#ceu)"/>
<path d="M500.8 247.5L505 245.8L510 245.8L515 241.7L516.7 236.7L520 233.3L519.2 229.2L523.3 227.5L525.8 225" fill="none" clip-path="url(#ceu)"/>
<path d="M530 229.2L528.3 231.7L530 235L526.7 238.3L525 241.7L520.8 245.8L522.5 250.8L520 254.2L524.2 258.3L520.8 260L520.8 263.3" fill="none" clip-path="url(#ceu)"/>
<path d="M561.6 253.6L562.3 256.7L564.5 259.5L566.6 265.2L570.1 264.5L570.8 260.9L573.7 259.5L573 256.7L568 256L566.6 253.8" fill="none" clip-path="url(#ceu)"/>
<path d="M582.9 249.6L580.8 253.1L577.9 256.7L576.5 260.9L574.4 265.2L573.7 259.5" fill="none" clip-path="url(#ceu)"/>
<path d="M562.3 249.9L563 253.6" fill="none" clip-path="url(#ceu)"/>
<path d="M570.1 249.6L570.6 252.7L566.6 253.6" fill="none" clip-path="url(#ceu)"/>
<path d="M543.9 243.2L548.2 245.3L553.8 248.2L559.5 249.6L562.3 249.9" fill="none" clip-path="url(#ceu)"/>
<path d="M381.8 169.7L383.9 163.3L386 157.7L390.3 152L395.9 147.8L401.6 144.9L404.4 142.8" fill="none" clip-path="url(#ceu)"/>
<path d="M403 154.1L402.3 149.2L404.4 145.6L401.6 144.9" fill="none" clip-path="url(#ceu)"/>
<path d="M415.8 168.3L418.6 161.9L415.8 156.3L416.5 150.6L413.6 146.3L414.3 143.5" fill="none" clip-path="url(#ceu)"/>
<path d="M404.4 142.8L408.7 144.9L412.2 143.5L414.3 143.5" fill="none" clip-path="url(#ceu)"/>
<path d="M415.8 168.7L415.1 173.3L418.6 177.5L423.6 180.3L425.7 183.9L422.8 187.4L427.1 186.7L432.8 189.5L438.4 192.4L443.4 195.9L442.7 200.2L439.8 200.9" fill="none" clip-path="url(#ceu)"/>
<path d="M404.4 173L410.1 173.3L415.1 173.3" fill="none" clip-path="url(#ceu)"/>
<path d="M403 176.1L408.7 176.8L414.3 177.5L415.1 174" fill="none" clip-path="url(#ceu)"/>
<path d="M403 178.9L408.7 180.3L409.4 184.6L408.7 191L405.8 192.4L401.6 191.7L397.3 191L393.1 189.5L391 185.3L391.7 181" fill="none" clip-path="url(#ceu)"/>
<path d="M377.5 181.8L376.1 187.4L374.7 191.7L377.5 194.5L376.1 198L383.2 199.5L388.8 197.3L391 194.5L387.4 191.7L393.1 189.5" fill="none" clip-path="url(#ceu)"/>
<path d="M368.3 189.5L371.8 192.4L377.5 194.5" fill="none" clip-path="url(#ceu)"/>
<path d="M376.1 198L375.4 201.6L376.8 205.1L374.7 208.7" fill="none" clip-path="url(#ceu)"/>
<path d="M343.5 212.2L347 211.5L346.3 220" fill="none" clip-path="url(#ceu)"/>
<path d="M359.1 209.4L368.3 208.7" fill="none" clip-path="url(#ceu)"/>
<path d="M375.4 201.6L378.9 200.9L383.2 199.5L388.8 201.6L389.5 203" fill="none" clip-path="url(#ceu)"/>
<path d="M408.7 191L407.3 194.5L410.1 197.3L414.3 198L420 198L423.6 201.6" fill="none" clip-path="url(#ceu)"/>
<path d="M405.8 199.5L408 203L411.5 205.8L417.2 206.6L422.1 205.8" fill="none" clip-path="url(#ceu)"/>
<path d="M409.4 184.6L414.3 185.3L420 184.6L423.6 180.3" fill="none" clip-path="url(#ceu)"/>
<path d="M388.8 197.3L394.5 198L398.8 197.3L401.6 191.7" fill="none" clip-path="url(#ceu)"/>
<path d="M394.5 198L397.3 201.6L403 203L405.8 199.5L407.3 194.5" fill="none" clip-path="url(#ceu)"/>
<path d="M388.8 201.6L394.5 203L397.3 201.6" fill="none" clip-path="url(#ceu)"/>
<path d="M458 194L460 190L468 188L476 187L482 188L483 183L489 180L498 179L506 181L510 182" fill="none" clip-path="url(#ceu)"/>
<path d="M510 182L518 186L526 190L536 191L542 193" fill="none" clip-path="url(#ceu)"/>
<path d="M542 193L538 198L534 204L530 211L522 212L516 215" fill="none" clip-path="url(#ceu)"/>
<path d="M542 193L550 190L560 188L570 191L580 193L590 194L600 191L601 186L606 183L614 184L622 188L628 193L634 196L640 197" fill="none" clip-path="url(#ceu)"/>
<path d="M542 193L545 198L554 204L564 209L576 212L586 214L596 211L598 206L606 203L609 199L604 198L599 196L600 191" fill="none" clip-path="url(#ceu)"/>
<path d="M640 197L640 201.7L638.3 208.3L640 210.8" fill="none" clip-path="url(#ceu)"/>
<path d="M630.8 219.2L634.2 216.7L638.3 214.2" fill="none" clip-path="url(#ceu)"/>
<path d="M590 211.7L596.7 209.2L600 205L608.3 200L603.3 197.5L598.3 195.8L599.2 191.7L600.8 185" fill="none" clip-path="url(#ceu)"/>
<path d="M195.8 292L194.2 297.5L197.5 301.7L203.3 304.2L205 307.5L204.2 311.7L205 315.8L209.2 317.5L213.3 315.8L216.7 312.5L220.3 310" fill="none"/>
<path d="M175.8 321.7L180.8 323.3L186.7 326.7L190.8 330L198.3 330.8L200 324.2L199.2 318.3L205 315.8" fill="none"/>
<path d="M174.7 325.8L176.7 331.7L180.8 333.3L186.7 326.7" fill="none"/>
<path d="M198.3 330.8L199.2 338.3L191.7 340L190 345L195 348.3L200 353.3L205 355" fill="none"/>
<path d="M199 349L203 354L202 362L204 372" fill="none"/>
<path d="M191 340L199 349L210 350L217 357L223 360L224 366L230 368L231 376" fill="none"/>
<path d="M207 383L211 382L219 380L220 376" fill="none"/>
<path d="M238 394L241 395L237 400L234 404L235 409L236 415" fill="none"/>
<path d="M234 404L240 407L245 411" fill="none"/>
<path d="M595.8 265.8L600 268.3L604.2 274.2L608.3 280L610 285" fill="none" clip-path="url(#ceu)"/>
<path d="M591.7 265.8L593.3 270.8L596.7 274.2L599.2 272.5L603.3 276.7L606.7 280.8L607.5 285" fill="none" clip-path="url(#ceu)"/>
<path d="M600 286.7L607.5 285L610.8 285L611.3 290L606.7 293.3" fill="none" clip-path="url(#ceu)"/>
<path d="M595.8 265.8L600 263.3L604.2 265L606.7 267.5" fill="none" clip-path="url(#ceu)"/>
<path d="M599.7 288.3L600 286.7" fill="none" clip-path="url(#ceu)"/>
</g></svg>
<div id="legend">
<span class="sw" style="left:147.5px;background:#2b83ba"></span><span class="lb" style="left:167.3px;letter-spacing:-0.64px">Equal</span>
<span class="sw" style="left:215.3px;background:#abdda4"></span><span class="lb" style="left:234.6px;letter-spacing:0.03px">Partial implementation</span>
<span class="sw" style="left:388.5px;background:#fdae61"></span><span class="lb" style="left:409px;letter-spacing:-0.19px">No legal provisions</span>
<span class="sw" style="left:541.2px;background:#d7191c"></span><span class="lb" style="left:560.4px;letter-spacing:-0.17px">Unequal</span>
<span class="sw" style="left:625.5px;background:repeating-linear-gradient(135deg,#fff 0,#fff 2.6px,#d9d9d9 2.6px,#d9d9d9 3.8px)"></span><span class="lb" style="left:644.6px;letter-spacing:-0.14px">No data</span>
</div>
<div id="src"><b>Data source:</b> <span>Velasco (2020)</span></div>
<div id="lic">OurWorldinData.org/lgbt-rights | CC BY</div>
</body>
</html>
